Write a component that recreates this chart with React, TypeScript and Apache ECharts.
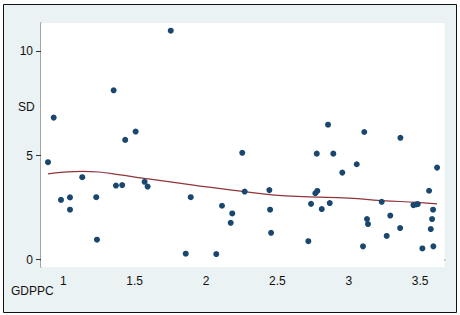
import React, { useEffect, useRef } from "react";
import * as echarts from "echarts";

const gdppc = [
  0.893, 0.933, 0.984, 1.047, 1.047, 1.133, 1.231, 1.236, 1.353, 1.369,
  1.413, 1.434, 1.507, 1.57, 1.591, 1.753, 1.858, 1.893, 2.072, 2.112,
  2.173, 2.184, 2.254, 2.271, 2.444, 2.449, 2.456, 2.717, 2.736, 2.766,
  2.78, 2.776, 2.811, 2.855, 2.867, 2.892, 2.955, 3.056, 3.1, 3.109,
  3.128, 3.135, 3.231, 3.266, 3.291, 3.36, 3.362, 3.453, 3.472, 3.484,
  3.516, 3.563, 3.575, 3.584, 3.591, 3.593, 3.619,
];
const sd = [
  4.68, 6.82, 2.87, 2.99, 2.4, 3.96, 3.0, 0.96, 8.13, 3.56,
  3.58, 5.75, 6.15, 3.74, 3.51, 10.99, 0.29, 3.0, 0.27, 2.59,
  1.77, 2.22, 5.13, 3.27, 3.34, 2.4, 1.29, 0.89, 2.68, 3.19,
  3.3, 5.09, 2.43, 6.48, 2.72, 5.09, 4.18, 4.58, 0.64, 6.13,
  1.95, 1.71, 2.78, 1.14, 2.12, 1.52, 5.85, 2.62, 2.65, 2.67,
  0.54, 3.31, 1.47, 1.95, 2.4, 0.64, 4.42,
];
const lowessX = [0.893, 1.0, 1.13, 1.25, 1.4, 1.57, 1.8, 2.02, 2.27, 2.48, 2.72, 3.0, 3.23, 3.48, 3.619];
const lowessY = [4.12, 4.2, 4.24, 4.21, 4.07, 3.9, 3.69, 3.48, 3.27, 3.1, 3.02, 2.96, 2.84, 2.75, 2.68];
const xTicks = [1, 1.5, 2, 2.5, 3, 3.5];
const yTicks = [0, 5, 10];

const FONT = "'Liberation Sans', Arial, sans-serif";

export default function App() {
  const ref = useRef<HTMLDivElement>(null);
  useEffect(() => {
    document.body.style.margin = "0";
    const chart = echarts.init(ref.current!, null, { renderer: "svg" });
    chart.setOption({
      animation: false,
      backgroundColor: "#ffffff",
      textStyle: { fontFamily: FONT },
      graphic: [
        {
          type: "rect",
          z: -10,
          shape: { x: 3.5, y: 4.5, width: 453, height: 308 },
          style: { fill: "#EAF2F3", stroke: "#111", lineWidth: 1 },
        },
        {
          type: "text",
          left: 18,
          top: 101,
          style: { text: "SD", fontSize: 12, fontFamily: FONT, fill: "#111" },
        },
        {
          type: "text",
          left: 11,
          top: 285,
          style: { text: "GDPPC", fontSize: 12, fontFamily: FONT, fill: "#111" },
        },
      ],
      grid: {
        left: 41,
        top: 23,
        right: 15.5,
        bottom: 48,
        show: true,
        backgroundColor: "#ffffff",
        borderWidth: 0,
        z: 1,
      },
      xAxis: {
        type: "value",
        min: 0.844,
        max: 3.671,
        axisLine: { show: true, lineStyle: { color: "#8c8c8c", width: 1.8 } },
        axisTick: { show: true, customValues: xTicks, length: 5, lineStyle: { color: "#333", width: 1 } },
        axisLabel: {
          customValues: xTicks,
          margin: 8,
          fontSize: 12,
          color: "#111",
          fontFamily: FONT,
          formatter: (v: number) => String(v),
        },
        splitLine: { show: false },
      },
      yAxis: {
        type: "value",
        min: -0.35,
        max: 11.36,
        axisLine: { show: true, lineStyle: { color: "#8c8c8c", width: 1.5 } },
        axisTick: { show: true, customValues: yTicks, length: 5, lineStyle: { color: "#333", width: 1 } },
        axisLabel: {
          customValues: yTicks,
          margin: 8,
          fontSize: 12,
          color: "#111",
          fontFamily: FONT,
          formatter: (v: number) => String(v),
        },
        splitLine: { show: true, lineStyle: { color: "#E1EAED", width: 1 } },
      },
      series: [
        {
          type: "scatter",
          data: gdppc.map((x, i) => [x, sd[i]]),
          symbol: "circle",
          symbolSize: 6,
          itemStyle: { color: "#1A476F", opacity: 1 },
          z: 3,
        },
        {
          type: "line",
          data: lowessX.map((x, i) => [x, lowessY[i]]),
          showSymbol: false,
          smooth: true,
          lineStyle: { color: "#90353B", width: 1.2 },
          z: 2,
        },
      ],
    });
    return () => chart.dispose();
  }, []);
  return <div ref={ref} style={{ width: 460, height: 315 }} />;
}
